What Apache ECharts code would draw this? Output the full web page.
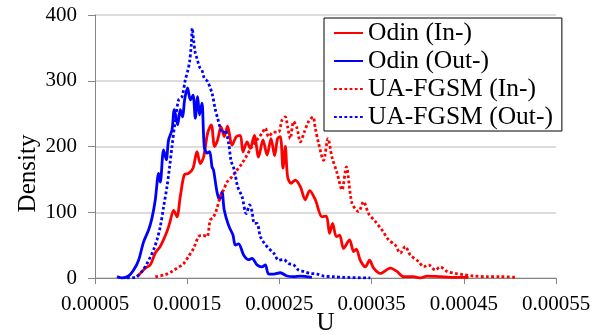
<!DOCTYPE html>
<html>
<head>
<meta charset="utf-8">
<script src="https://cdn.jsdelivr.net/npm/echarts@6/dist/echarts.min.js"></script>
<style>
    html, body { margin: 0; padding: 0; background: #fff; }
    #chart { width: 605px; height: 335px; }
</style>
</head>
<body>
<div id="chart"></div>
<script>
// [U, density]
const odinIn = [
    [0.0000956, 2], [0.0000991, 7], [0.0001046, 15], [0.00011, 20], [0.0001154, 38], [0.0001208, 48],
    [0.0001273, 68], [0.0001309, 83], [0.0001353, 103], [0.0001389, 93], [0.0001425, 124], [0.0001469, 157],
    [0.0001515, 159], [0.0001563, 167], [0.0001606, 192], [0.0001642, 174], [0.0001678, 184], [0.0001721, 220],
    [0.0001761, 233], [0.0001797, 200], [0.000183, 210], [0.0001867, 230], [0.0001902, 215], [0.0001938, 231],
    [0.0001986, 202], [0.0002033, 215], [0.0002076, 217], [0.0002105, 192], [0.0002149, 207], [0.0002184, 197],
    [0.0002228, 217], [0.0002274, 184], [0.0002322, 210], [0.0002366, 187], [0.0002409, 212], [0.0002448, 186],
    [0.000248, 212], [0.000251, 215], [0.0002539, 167], [0.0002564, 200], [0.0002589, 154], [0.0002626, 144],
    [0.0002672, 149], [0.0002727, 139], [0.000278, 119], [0.0002828, 133], [0.000289, 119], [0.0002962, 93],
    [0.0003009, 94], [0.0003044, 68], [0.0003077, 83], [0.0003117, 63], [0.0003153, 65], [0.0003196, 45],
    [0.0003261, 58], [0.0003305, 40], [0.0003334, 44], [0.0003377, 27], [0.0003432, 17], [0.0003478, 27],
    [0.0003522, 15], [0.0003594, 7], [0.0003703, 15], [0.0003775, 10], [0.0003847, 2], [0.0003956, 2],
    [0.0004028, 0], [0.0004101, 3], [0.0004245, 2], [0.0004389, 1], [0.0004552, 1]
];
const odinOut = [
    [0.0000739, 2], [0.0000793, 0], [0.0000864, 3], [0.0000919, 12], [0.0000973, 27], [0.0001027, 55],
    [0.0001081, 73], [0.0001118, 91], [0.0001154, 119], [0.000119, 159], [0.0001208, 146], [0.0001244, 195],
    [0.0001273, 180], [0.0001298, 210], [0.0001335, 225], [0.000136, 256], [0.0001396, 233], [0.0001425, 256],
    [0.000145, 245], [0.0001472, 271], [0.0001504, 289], [0.0001534, 271], [0.0001563, 278], [0.0001588, 243],
    [0.0001613, 276], [0.0001634, 248], [0.000166, 266], [0.0001685, 200], [0.0001715, 190], [0.0001743, 192],
    [0.0001769, 169], [0.0001786, 164], [0.0001823, 131], [0.0001851, 119], [0.0001877, 131], [0.0001902, 103],
    [0.0001949, 80], [0.0001997, 65], [0.0002022, 50], [0.0002058, 52], [0.0002112, 35], [0.0002166, 28],
    [0.0002203, 30], [0.0002257, 20], [0.0002311, 17], [0.0002347, 20], [0.0002383, 6], [0.0002437, 6],
    [0.000251, 8], [0.0002583, 3], [0.0002654, 2], [0.0002727, 3], [0.0002853, 1]
];
const fgsmIn = [
    [0.0001154, 2], [0.0001262, 5], [0.0001335, 10], [0.0001389, 15], [0.0001461, 22], [0.0001515, 33],
    [0.0001569, 45], [0.0001624, 63], [0.0001671, 65], [0.0001715, 63], [0.000175, 88], [0.0001786, 93],
    [0.0001823, 106], [0.0001859, 124], [0.0001895, 134], [0.0001932, 146], [0.0001986, 154], [0.000204, 164],
    [0.0002094, 174], [0.0002149, 187], [0.0002203, 200], [0.0002257, 210], [0.0002311, 220], [0.0002347, 228],
    [0.0002383, 215], [0.0002437, 222], [0.0002491, 222], [0.0002528, 240], [0.0002564, 245], [0.0002589, 230],
    [0.0002618, 212], [0.0002654, 238], [0.0002691, 228], [0.0002727, 207], [0.000277, 222], [0.0002817, 238],
    [0.0002864, 245], [0.0002889, 228], [0.0002925, 205], [0.0002979, 179], [0.0003027, 212], [0.000307, 184],
    [0.0003125, 160], [0.0003179, 134], [0.0003226, 169], [0.0003287, 114], [0.0003359, 101], [0.0003413, 116],
    [0.0003467, 98], [0.000354, 86], [0.0003613, 73], [0.0003684, 58], [0.0003757, 50], [0.0003811, 38],
    [0.0003865, 48], [0.0003919, 35], [0.000401, 25], [0.0004064, 17], [0.0004118, 20], [0.0004191, 12],
    [0.0004245, 17], [0.0004318, 10], [0.0004408, 7], [0.0004498, 5], [0.0004606, 3], [0.0004752, 2],
    [0.0004896, 2], [0.0005077, 1]
];
const fgsmOut = [
    [0.0000847, 0], [0.0000937, 1], [0.000101, 10], [0.0001064, 22], [0.00011, 32], [0.0001136, 43],
    [0.0001172, 58], [0.0001208, 78], [0.0001244, 108], [0.0001281, 139], [0.0001309, 169], [0.0001335, 200],
    [0.0001371, 240], [0.0001407, 271], [0.0001444, 276], [0.0001479, 301], [0.0001504, 314], [0.0001526, 329],
    [0.0001544, 354], [0.0001555, 380], [0.0001569, 362], [0.0001588, 342], [0.0001606, 334], [0.0001634, 321],
    [0.000166, 316], [0.0001685, 304], [0.0001721, 299], [0.0001769, 281], [0.0001805, 256], [0.000183, 243],
    [0.0001859, 228], [0.0001888, 220], [0.0001913, 225], [0.0001949, 205], [0.0001975, 179], [0.0002011, 164],
    [0.0002047, 139], [0.0002094, 124], [0.0002141, 98], [0.0002177, 111], [0.0002203, 101], [0.0002228, 83],
    [0.0002257, 83], [0.0002293, 63], [0.0002336, 53], [0.0002383, 45], [0.0002437, 38], [0.0002491, 27],
    [0.0002546, 28], [0.00026, 22], [0.0002654, 20], [0.0002708, 12], [0.0002762, 10], [0.0002835, 7],
    [0.0002908, 6], [0.000298, 3], [0.0003088, 2], [0.00032, 1], [0.0003486, 0]
];
const seriesNames = ['Odin (In-)', 'Odin (Out-)', 'UA-FGSM (In-)', 'UA-FGSM (Out-)'];
const xMin = 0.00005, xMax = 0.00055, xStep = 0.0001;
const yMin = 0, yMax = 400, yStep = 100;

const font = 'Liberation Serif';
const chart = echarts.init(document.getElementById('chart'));

function line(name, data, color, dotted) {
    return {
        name: name,
        type: 'line',
        data: data,
        symbol: 'none',
        smooth: 0.3,
        lineStyle: {
            color: color,
            width: 2.8,
            type: dotted ? [2.8, 2.4] : 'solid',
            cap: 'butt'
        },
        itemStyle: { color: color }
    };
}

const option = {
    animation: false,
    grid: { left: 95, right: 49, top: 15, bottom: 57, containLabel: false, outerBoundsMode: 'none' },
    legend: {
        data: seriesNames,
        orient: 'vertical',
        left: 324,
        top: 18,
        padding: [2, 9, 1, 9],
        itemWidth: 29,
        itemHeight: 14,
        itemGap: 2,
        borderColor: '#000',
        borderWidth: 1,
        backgroundColor: '#fff',
        itemStyle: { opacity: 0 },
        textStyle: { fontFamily: font, fontSize: 25.5, color: '#000', lineHeight: 26 }
    },
    xAxis: {
        type: 'value',
        min: xMin,
        max: xMax,
        interval: xStep,
        name: 'U',
        nameLocation: 'middle',
        nameGap: 33,
        nameMoveOverlap: false,
        nameTextStyle: { fontFamily: font, fontSize: 25, color: '#000' },
        axisLine: { lineStyle: { color: '#868686', width: 1 } },
        axisTick: { show: true, length: 6, lineStyle: { color: '#868686' } },
        axisLabel: {
            fontFamily: font, fontSize: 21, color: '#000', margin: 16,
            formatter: v => v.toFixed(5)
        },
        splitLine: { show: false }
    },
    yAxis: {
        type: 'value',
        min: yMin,
        max: yMax,
        interval: yStep,
        name: 'Density',
        nameLocation: 'middle',
        nameGap: 54,
        nameMoveOverlap: false,
        nameTextStyle: { fontFamily: font, fontSize: 25, color: '#000', padding: [0, 54, 0, 0] },
        axisLine: { show: true, lineStyle: { color: '#868686', width: 1 } },
        axisTick: { show: true, length: 7, lineStyle: { color: '#868686' } },
        axisLabel: { fontFamily: font, fontSize: 21, color: '#000', margin: 18 },
        splitLine: { lineStyle: { color: '#d0d0d0', width: 1.5 } }
    },
    series: [
        line(seriesNames[0], odinIn, '#ff0000', false),
        line(seriesNames[1], odinOut, '#0000ff', false),
        line(seriesNames[2], fgsmIn, '#ff0000', true),
        line(seriesNames[3], fgsmOut, '#0000ff', true)
    ]
};
chart.setOption(option);
</script>
</body>
</html>
